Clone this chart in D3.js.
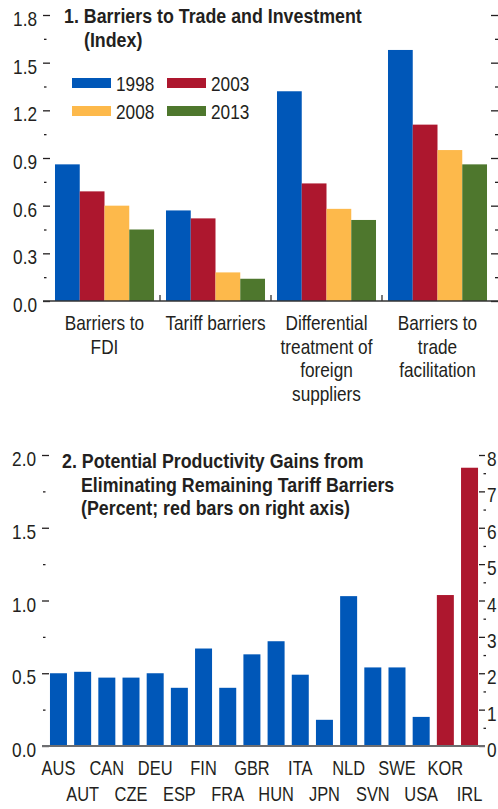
<!DOCTYPE html>
<html>
<head>
<meta charset="utf-8">
<script src="https://cdn.jsdelivr.net/npm/d3@7.9.0/dist/d3.min.js"></script>
<style>
  body { margin: 0; background: #fff; }
  svg { display: block; overflow: hidden; }
  text { font-family: "Liberation Sans", Arial, sans-serif; fill: #231f20; }
  .title { font-weight: bold; }
</style>
</head>
<body>
<svg id="chart" width="498" height="809"></svg>
<script>
// panel 1 data
const barrierCats = [['Barriers to', 'FDI'], ['Tariff barriers'], ['Differential', 'treatment of', 'foreign', 'suppliers'], ['Barriers to', 'trade', 'facilitation']];
const years = ['1998', '2003', '2008', '2013'];
const v1998 = [0.86, 0.57, 1.32, 1.58];
const v2003 = [0.69, 0.52, 0.74, 1.11];
const v2008 = [0.60, 0.18, 0.58, 0.95];
const v2013 = [0.45, 0.14, 0.51, 0.86];
const yearColors = ['#0057b8', '#ad172e', '#fdb94b', '#4e772d'];
const ticks1 = [0, 0.3, 0.6, 0.9, 1.2, 1.5, 1.8];

// panel 2 data
const countries = ['AUS', 'AUT', 'CAN', 'CZE', 'DEU', 'ESP', 'FIN', 'FRA', 'GBR', 'HUN', 'ITA', 'JPN', 'NLD', 'SVN', 'SWE', 'USA', 'KOR', 'IRL'];
const gains = [0.50, 0.51, 0.47, 0.47, 0.50, 0.40, 0.67, 0.40, 0.63, 0.72, 0.49, 0.18, 1.03, 0.54, 0.54, 0.20, 4.15, 7.65];
const rightAxisCountries = ['KOR', 'IRL'];
const ticks2L = [0, 0.5, 1.0, 1.5, 2.0];
const ticks2R = [0, 1, 2, 3, 4, 5, 6, 7, 8];

const svg = d3.select('#chart');
const ink = '#231f20';

function styleAxis(g) {
  g.select('.domain').remove();
  g.selectAll('line').attr('stroke', ink).attr('stroke-width', 1.3);
  g.selectAll('text').style('font-size', '21px').attr('fill', ink);
}

// squeeze text horizontally so it looks like a condensed face
function narrow(sel, f = 0.82) {
  sel.each(function () {
    const len = this.getComputedTextLength();
    if (len > 0) {
      this.setAttribute('textLength', len * f);
      this.setAttribute('lengthAdjust', 'spacingAndGlyphs');
    }
  });
}

// ---------- Panel 1 ----------
const y1 = d3.scaleLinear().domain([0, 1.8]).range([301, 15]);
const x1 = d3.scaleBand().domain(d3.range(barrierCats.length)).range([49, 493])
  .paddingInner(0.108).paddingOuter(0.054);
const xs1 = d3.scaleBand().domain(years).range([0, x1.bandwidth()]);
const series1 = [v1998, v2003, v2008, v2013];

const minor1 = d3.range(0.15, 1.8, 0.3);

svg.append('g').attr('transform', 'translate(50,0)')
  .call(d3.axisLeft(y1).tickValues(ticks1).tickSize(7).tickPadding(6).tickFormat(d3.format('.1f')))
  .call(styleAxis)
  .selectAll('text').attr('dy', '0.5em');
svg.append('g').attr('transform', 'translate(46.5,0)')
  .call(d3.axisLeft(y1).tickValues(minor1).tickSize(2.5).tickFormat(''))
  .call(styleAxis);
svg.append('g').attr('transform', 'translate(491,0)')
  .call(d3.axisRight(y1).tickValues(ticks1).tickSize(8).tickFormat(''))
  .call(styleAxis);
svg.append('g').attr('transform', 'translate(495,0)')
  .call(d3.axisRight(y1).tickValues(minor1).tickSize(3).tickFormat(''))
  .call(styleAxis);

const groups1 = svg.append('g').selectAll('g').data(barrierCats).join('g')
  .attr('transform', (d, i) => `translate(${x1(i)},0)`);
groups1.selectAll('rect')
  .data((d, i) => years.map((yr, k) => ({ yr, k, v: series1[k][i] })))
  .join('rect')
  .attr('x', d => xs1(d.yr))
  .attr('width', xs1.bandwidth())
  .attr('y', d => y1(d.v))
  .attr('height', d => y1(0) - y1(d.v))
  .attr('fill', d => yearColors[d.k]);

svg.append('line').attr('x1', 43).attr('x2', 498).attr('y1', y1(0)).attr('y2', y1(0))
  .attr('stroke', '#333').attr('stroke-width', 1.6);

// separators between categories
svg.append('g').selectAll('line').data(d3.range(1, barrierCats.length)).join('line')
  .attr('x1', i => x1(i) - x1.step() * x1.paddingInner() / 2)
  .attr('x2', i => x1(i) - x1.step() * x1.paddingInner() / 2)
  .attr('y1', y1(0) - 6).attr('y2', y1(0))
  .attr('stroke', '#333').attr('stroke-width', 1.3);

// category labels, one text per line
groups1.selectAll('text.cat').data(d => d).join('text')
  .attr('class', 'cat')
  .attr('text-anchor', 'middle')
  .style('font-size', '21px')
  .attr('x', x1.bandwidth() / 2)
  .attr('y', (d, j) => 330 + j * 23.5)
  .text(d => d);

// legend
const legend = svg.append('g').selectAll('g').data(years).join('g')
  .attr('transform', (d, i) => `translate(${72 + (i % 2) * 95},${78 + Math.floor(i / 2) * 28})`);
legend.append('rect').attr('width', 39).attr('height', 10).attr('fill', (d, i) => yearColors[i]);
legend.append('text').attr('x', 44).attr('y', 13).style('font-size', '21px').text(d => d);

// ---------- Panel 2 ----------
const y2 = d3.scaleLinear().domain([0, 2]).range([746, 455]);
const y2r = d3.scaleLinear().domain([0, 8]).range([746, 455]);
const x2 = d3.scaleBand().domain(countries).range([49, 479]).paddingInner(0.297).paddingOuter(0.04);
const yFor = c => rightAxisCountries.includes(c) ? y2r : y2;

svg.append('g').attr('transform', 'translate(49,0)')
  .call(d3.axisLeft(y2).tickValues(ticks2L).tickSize(7).tickPadding(6).tickFormat(d3.format('.1f')))
  .call(styleAxis)
  .selectAll('text').attr('dy', '0.5em');
svg.append('g').attr('transform', 'translate(45.5,0)')
  .call(d3.axisLeft(y2).tickValues(d3.range(0.25, 2, 0.5)).tickSize(2.5).tickFormat(''))
  .call(styleAxis);
svg.append('g').attr('transform', 'translate(479,0)')
  .call(d3.axisRight(y2r).tickValues(ticks2R).tickSize(6).tickPadding(2).tickFormat(d3.format('d')))
  .call(styleAxis)
  .selectAll('text').attr('dy', '0.5em');
svg.append('g').attr('transform', 'translate(483.5,0)')
  .call(d3.axisRight(y2r).tickValues(d3.range(0.5, 8, 1)).tickSize(2.5).tickFormat(''))
  .call(styleAxis);

svg.append('g').selectAll('rect').data(countries).join('rect')
  .attr('x', c => x2(c))
  .attr('width', x2.bandwidth())
  .attr('y', (c, i) => yFor(c)(gains[i]))
  .attr('height', (c, i) => yFor(c)(0) - yFor(c)(gains[i]))
  .attr('fill', c => rightAxisCountries.includes(c) ? yearColors[1] : yearColors[0]);

svg.append('line').attr('x1', 42).attr('x2', 485).attr('y1', y2(0)).attr('y2', y2(0))
  .attr('stroke', '#6d6e71').attr('stroke-width', 2);

svg.append('g').selectAll('text').data(countries).join('text')
  .attr('x', c => x2(c) + x2.bandwidth() / 2)
  .attr('y', (c, i) => i % 2 === 0 ? 775 : 801)
  .attr('text-anchor', 'middle')
  .style('font-size', '20px')
  .text(c => c);

narrow(svg.selectAll('text'));

// titles (bold, a little less condensed)
const titles = svg.append('g');
[['1. Barriers to Trade and Investment', 64, 23],
 ['(Index)', 84, 47],
 ['2. Potential Productivity Gains from', 62, 468],
 ['Eliminating Remaining Tariff Barriers', 81, 492],
 ['(Percent; red bars on right axis)', 81, 515]].forEach(([t, x, y]) => {
  titles.append('text').attr('class', 'title').style('font-size', '20px')
    .attr('x', x).attr('y', y).text(t);
});
narrow(titles.selectAll('text'), 0.89);
</script>
</body>
</html>
